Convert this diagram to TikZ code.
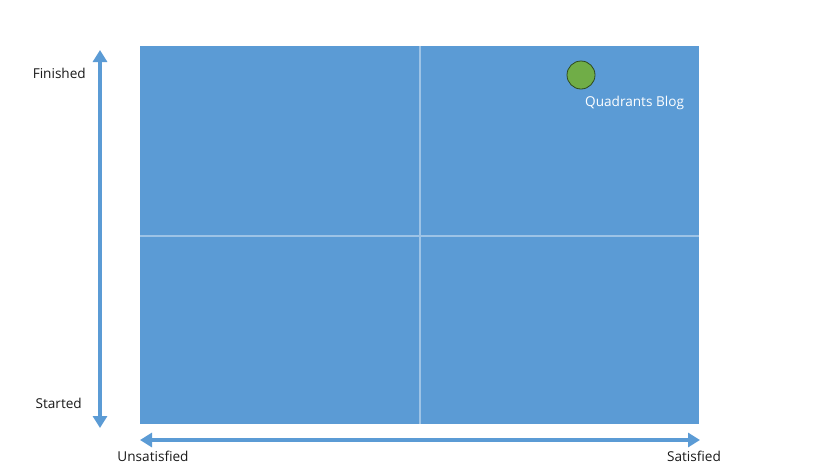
\documentclass[tikz,border=0pt]{standalone}
\usepackage{fontspec}
\setmainfont{Open Sans}
\usetikzlibrary{arrows.meta}
\definecolor{qblue}{HTML}{5B9BD5}
\definecolor{qline}{HTML}{9DC3E6}
\definecolor{qgreen}{HTML}{70AD47}
\definecolor{qgreenb}{HTML}{2E4A1E}
\definecolor{qtext}{HTML}{1A1A1A}
\begin{document}
\begin{tikzpicture}[x=1pt,y=-1pt,
  axis/.style={draw=qblue,line width=4pt,{Triangle[width=14pt,length=12pt]}-{Triangle[width=14pt,length=12pt]}},
  lbl/.style={font=\fontsize{13.6pt}{16pt}\selectfont,text=qtext,inner sep=0pt},
  grid/.style={draw=qline,line width=1.3pt}]
\useasboundingbox[fill=white] (0,0) rectangle (840,472);
\fill[qblue] (140,46) rectangle (699,424);
\coordinate (mt) at (420,46);
\coordinate (mb) at (420,424);
\coordinate (ml) at (140,236);
\coordinate (mr) at (699,236);
\draw[grid] (mt) -- (mb);
\draw[grid] (ml) -- (mr);
\coordinate (vt) at (100,50);
\coordinate (vb) at (100,428);
\coordinate (hl) at (140,440);
\coordinate (hr) at (700,440);
\draw[axis] (vt) -- (vb);
\draw[axis] (hl) -- (hr);
\node[lbl,anchor=east] (fin) at (86,73) {Finished};
\node[lbl,anchor=east] (sta) at (82,403) {Started};
\node[lbl] (uns) at (153,456) {Unsatisfied};
\node[lbl] (sat) at (694,456) {Satisfied};
\node[circle,fill=qgreen,draw=qgreenb,line width=0.8pt,minimum size=28pt,inner sep=0pt] (dot) at (581,75) {};
\node[lbl,text=white,anchor=west] (qb) at (585,103) {Quadrants Blog};
\end{tikzpicture}
\end{document}
